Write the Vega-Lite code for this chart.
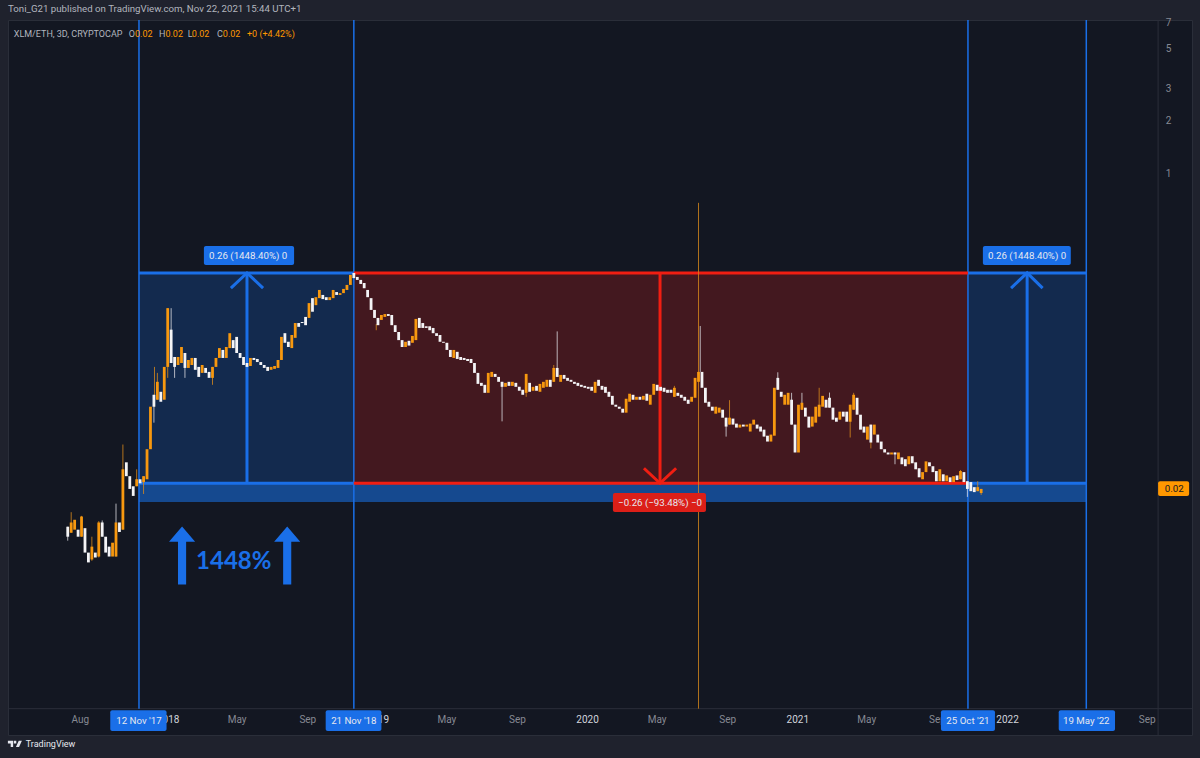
{
"$schema":"https://vega.github.io/schema/vega-lite/v6.json",
"width":1184,"height":715,
"autosize":{"type":"none"},
"padding":{"left":8,"top":20,"right":8,"bottom":23},
"background":"#1f222d",
"config":{"view":{"fill":"#131722","stroke":"#2a2e39"},"font":"Roboto"},
"title":{"text":"Toni_G21 published on TradingView.com, Nov 22, 2021 15:44 UTC+1","anchor":"start","frame":"group","fontSize":9.7,"fontWeight":"normal","color":"#b2b5be","offset":4},
"datasets":{
"zones":[
{"t":"2017-11-12","t2":"2018-11-21","p":0.28,"p2":0.0187,"k":"zblue"},
{"t":"2018-11-21","t2":"2021-10-25","p":0.28,"p2":0.0187,"k":"zred"},
{"t":"2021-10-25","t2":"2022-05-19","p":0.28,"p2":0.0187,"k":"zblue"},
{"t":"2017-11-12","t2":"2022-05-19","p":0.0187,"p2":0.0147,"k":"band"}],
"frame":[
{"t":"2017-03-29","t2":"2022-11-19","p":0.00103,"p2":0.00103,"k":"line"},
{"t":"2022-09-21","t2":"2022-09-21","p":7.25,"p2":0.000734,"k":"line"}],
"dates":[
{"t":"2017-11-12","p":7.25,"p2":0.00103,"k":"blue"},
{"t":"2018-11-21","p":7.25,"p2":0.00103,"k":"blue"},
{"t":"2021-10-25","p":7.25,"p2":0.00103,"k":"blue"},
{"t":"2022-05-19","p":7.25,"p2":0.00103,"k":"blue"}],
"edges":[
{"t":"2017-11-12","t2":"2018-11-21","p":0.28,"k":"blue"},
{"t":"2017-11-12","t2":"2018-11-21","p":0.0187,"k":"blue"},
{"t":"2018-11-21","t2":"2021-10-25","p":0.28,"k":"red"},
{"t":"2018-11-21","t2":"2021-10-25","p":0.0187,"k":"red"},
{"t":"2021-10-25","t2":"2022-05-19","p":0.28,"k":"blue"},
{"t":"2021-10-25","t2":"2022-05-19","p":0.0187,"k":"blue"}],
"shafts":[
{"t":"2018-05-19","p":0.28,"p2":0.0187,"k":"blue"},
{"t":"2020-05-07","p":0.28,"p2":0.0187,"k":"red"},
{"t":"2022-02-05","p":0.28,"p2":0.0187,"k":"blue"}],
"heads":[
{"t":"2018-04-21","p":0.2305,"g":"a","k":"blue"},{"t":"2018-05-19","p":0.28,"g":"a","k":"blue"},{"t":"2018-06-16","p":0.2305,"g":"a","k":"blue"},
{"t":"2020-04-09","p":0.0227,"g":"b","k":"red"},{"t":"2020-05-07","p":0.0187,"g":"b","k":"red"},{"t":"2020-06-04","p":0.0227,"g":"b","k":"red"},
{"t":"2022-01-08","p":0.2305,"g":"c","k":"blue"},{"t":"2022-02-05","p":0.28,"g":"c","k":"blue"},{"t":"2022-03-04","p":0.2305,"g":"c","k":"blue"}],
"wicks":[
{"t":"2017-07-11","p":0.0107,"p2":0.00894,"k":"down"},{"t":"2017-07-17","p":0.0129,"p2":0.0099,"k":"up"},{"t":"2017-08-04","p":0.0123,"p2":0.0094,"k":"up"},{"t":"2017-08-22","p":0.00941,"p2":0.0069,"k":"up"},{"t":"2017-09-03","p":0.0115,"p2":0.0072,"k":"up"},{"t":"2017-09-09","p":0.0116,"p2":0.0094,"k":"down"},{"t":"2017-10-03","p":0.0144,"p2":0.0073,"k":"down"},{"t":"2017-10-15","p":0.0308,"p2":0.0103,"k":"up"},{"t":"2017-11-08","p":0.0224,"p2":0.018,"k":"up"},{"t":"2017-11-20","p":0.0205,"p2":0.0163,"k":"up"},{"t":"2017-12-08","p":0.0584,"p2":0.0408,"k":"down"},{"t":"2017-12-09","p":0.0836,"p2":0.05,"k":"up"},{"t":"2017-12-14","p":0.0774,"p2":0.0548,"k":"up"},{"t":"2018-01-01","p":0.178,"p2":0.0726,"k":"up"},{"t":"2018-01-07","p":0.178,"p2":0.0879,"k":"down"},{"t":"2018-01-13","p":0.095,"p2":0.0726,"k":"down"},{"t":"2018-01-31","p":0.1,"p2":0.0726,"k":"down"},{"t":"2018-03-20","p":0.0836,"p2":0.0664,"k":"up"},
{"t":"2018-12-30","p":0.145,"p2":0.134,"k":"up"},{"t":"2019-08-06","p":0.069,"p2":0.0415,"k":"down"},{"t":"2019-09-17","p":0.0764,"p2":0.0569,"k":"up"},{"t":"2019-11-04","p":0.0857,"p2":0.069,"k":"up"},{"t":"2019-11-10","p":0.132,"p2":0.0735,"k":"down"},
{"t":"2020-06-01","p":0.0655,"p2":0.0569,"k":"up"},{"t":"2020-07-13","p":0.69,"p2":0.00103,"k":"up"},{"t":"2020-07-16","p":0.1415,"p2":0.0784,"k":"down"},{"t":"2020-08-30","p":0.0435,"p2":0.0341,"k":"down"},{"t":"2020-09-05","p":0.0545,"p2":0.0398,"k":"up"},{"t":"2020-11-28","p":0.078,"p2":0.0623,"k":"down"},{"t":"2020-12-22","p":0.0599,"p2":0.0398,"k":"down"},{"t":"2021-01-09","p":0.0599,"p2":0.048,"k":"down"},{"t":"2021-02-08","p":0.0639,"p2":0.0441,"k":"up"},{"t":"2021-02-26","p":0.0601,"p2":0.0495,"k":"down"},{"t":"2021-04-03","p":0.0514,"p2":0.0337,"k":"up"},{"t":"2021-04-09","p":0.0599,"p2":0.0482,"k":"up"},{"t":"2021-05-09","p":0.0398,"p2":0.0293,"k":"up"},{"t":"2021-06-20","p":0.0278,"p2":0.0239,"k":"down"},{"t":"2021-10-12","p":0.0222,"p2":0.0197,"k":"up"},{"t":"2021-10-24","p":0.0192,"p2":0.0157,"k":"down"},{"t":"2021-11-11","p":0.0192,"p2":0.0169,"k":"up"},{"t":"2021-11-17","p":0.0174,"p2":0.0161,"k":"up"}],
"candles":[
{"t":"2017-07-11","p":0.0107,"p2":0.00941},{"t":"2017-07-17","p":0.0099,"p2":0.0113},{"t":"2017-07-23","p":0.0103,"p2":0.0117},{"t":"2017-07-29","p":0.0103,"p2":0.00941},{"t":"2017-08-04","p":0.00941,"p2":0.0122},{"t":"2017-08-10","p":0.0105,"p2":0.00767},{"t":"2017-08-16","p":0.00767,"p2":0.00676},{"t":"2017-08-22","p":0.00702,"p2":0.00828},{"t":"2017-08-28","p":0.00767,"p2":0.0072},{"t":"2017-09-03","p":0.00729,"p2":0.0113},
{"t":"2017-09-09","p":0.0113,"p2":0.00941},{"t":"2017-09-15","p":0.00941,"p2":0.00767},{"t":"2017-09-21","p":0.00828,"p2":0.00729},{"t":"2017-09-27","p":0.00729,"p2":0.00871},{"t":"2017-10-03","p":0.00729,"p2":0.0113},{"t":"2017-10-09","p":0.0113,"p2":0.01},{"t":"2017-10-15","p":0.0103,"p2":0.0224},{"t":"2017-10-21","p":0.0245,"p2":0.0205},{"t":"2017-10-27","p":0.0205,"p2":0.0174},{"t":"2017-11-02","p":0.018,"p2":0.0159},
{"t":"2017-11-08","p":0.018,"p2":0.0197},{"t":"2017-11-14","p":0.0197,"p2":0.0187},{"t":"2017-11-20","p":0.019,"p2":0.0205},{"t":"2017-11-26","p":0.0197,"p2":0.029},{"t":"2017-12-02","p":0.029,"p2":0.0501},{"t":"2017-12-08","p":0.0584,"p2":0.0501},{"t":"2017-12-14","p":0.0548,"p2":0.069},{"t":"2017-12-20","p":0.0607,"p2":0.0534},{"t":"2017-12-26","p":0.0548,"p2":0.0836},{"t":"2018-01-01","p":0.0836,"p2":0.178},
{"t":"2018-01-07","p":0.135,"p2":0.0879},{"t":"2018-01-13","p":0.095,"p2":0.0836},{"t":"2018-01-19","p":0.0857,"p2":0.095},{"t":"2018-01-25","p":0.0879,"p2":0.108},{"t":"2018-01-31","p":0.1,"p2":0.0825},{"t":"2018-02-06","p":0.0825,"p2":0.0914},{"t":"2018-02-12","p":0.0857,"p2":0.0938},{"t":"2018-02-18","p":0.0938,"p2":0.0805},{"t":"2018-02-24","p":0.0836,"p2":0.0735},{"t":"2018-03-02","p":0.0774,"p2":0.0857},
{"t":"2018-03-08","p":0.0825,"p2":0.0774},{"t":"2018-03-14","p":0.0784,"p2":0.0726},{"t":"2018-03-20","p":0.0726,"p2":0.0836},{"t":"2018-03-26","p":0.0836,"p2":0.0938},{"t":"2018-04-01","p":0.0938,"p2":0.1065},{"t":"2018-04-07","p":0.104,"p2":0.0938},{"t":"2018-04-13","p":0.0938,"p2":0.108},{"t":"2018-04-19","p":0.1065,"p2":0.129},{"t":"2018-04-25","p":0.118,"p2":0.1065},{"t":"2018-05-01","p":0.123,"p2":0.1},
{"t":"2018-05-07","p":0.1,"p2":0.0938},{"t":"2018-05-13","p":0.095,"p2":0.0857},{"t":"2018-05-19","p":0.0879,"p2":0.0836},{"t":"2018-05-25","p":0.0846,"p2":0.0938},{"t":"2018-05-31","p":0.0938,"p2":0.0914},{"t":"2018-06-06","p":0.0926,"p2":0.089},{"t":"2018-06-12","p":0.089,"p2":0.0857},{"t":"2018-06-18","p":0.0857,"p2":0.0825},{"t":"2018-06-24","p":0.0836,"p2":0.0794},{"t":"2018-06-30","p":0.0805,"p2":0.0836},
{"t":"2018-07-06","p":0.0815,"p2":0.0846},{"t":"2018-07-12","p":0.0825,"p2":0.0914},{"t":"2018-07-18","p":0.0914,"p2":0.123},{"t":"2018-07-24","p":0.129,"p2":0.114},{"t":"2018-07-30","p":0.1155,"p2":0.108},{"t":"2018-08-05","p":0.1065,"p2":0.126},{"t":"2018-08-11","p":0.1215,"p2":0.147},{"t":"2018-08-17","p":0.147,"p2":0.14},{"t":"2018-08-23","p":0.149,"p2":0.147},{"t":"2018-08-29","p":0.159,"p2":0.143},
{"t":"2018-09-04","p":0.157,"p2":0.19},{"t":"2018-09-10","p":0.2025,"p2":0.17},{"t":"2018-09-16","p":0.185,"p2":0.205},{"t":"2018-09-22","p":0.2025,"p2":0.225},{"t":"2018-09-28","p":0.211,"p2":0.2},{"t":"2018-10-04","p":0.205,"p2":0.1975},{"t":"2018-10-10","p":0.1975,"p2":0.205},{"t":"2018-10-16","p":0.2025,"p2":0.225},{"t":"2018-10-22","p":0.219,"p2":0.211},{"t":"2018-10-28","p":0.211,"p2":0.216},
{"t":"2018-11-03","p":0.216,"p2":0.228},{"t":"2018-11-09","p":0.225,"p2":0.24},{"t":"2018-11-15","p":0.24,"p2":0.273},{"t":"2018-11-21","p":0.28,"p2":0.262},{"t":"2018-11-27","p":0.266,"p2":0.256},{"t":"2018-12-03","p":0.256,"p2":0.243},{"t":"2018-12-09","p":0.246,"p2":0.23},{"t":"2018-12-15","p":0.225,"p2":0.205},{"t":"2018-12-21","p":0.2025,"p2":0.174},{"t":"2018-12-27","p":0.174,"p2":0.157},
{"t":"2019-01-02","p":0.157,"p2":0.143},{"t":"2019-01-08","p":0.153,"p2":0.163},{"t":"2019-01-14","p":0.159,"p2":0.165},{"t":"2019-01-20","p":0.165,"p2":0.161},{"t":"2019-01-26","p":0.163,"p2":0.143},{"t":"2019-02-01","p":0.143,"p2":0.131},{"t":"2019-02-07","p":0.131,"p2":0.118},{"t":"2019-02-13","p":0.118,"p2":0.108},{"t":"2019-02-19","p":0.108,"p2":0.1155},{"t":"2019-02-25","p":0.117,"p2":0.11},
{"t":"2019-03-03","p":0.114,"p2":0.1245},{"t":"2019-03-09","p":0.118,"p2":0.155},{"t":"2019-03-15","p":0.157,"p2":0.138},{"t":"2019-03-21","p":0.147,"p2":0.138},{"t":"2019-03-27","p":0.141,"p2":0.138},{"t":"2019-04-02","p":0.141,"p2":0.134},{"t":"2019-04-08","p":0.138,"p2":0.129},{"t":"2019-04-14","p":0.129,"p2":0.1245},{"t":"2019-04-20","p":0.126,"p2":0.1155},{"t":"2019-04-26","p":0.1155,"p2":0.114},
{"t":"2019-05-02","p":0.114,"p2":0.104},{"t":"2019-05-08","p":0.104,"p2":0.095},{"t":"2019-05-14","p":0.0938,"p2":0.104},{"t":"2019-05-20","p":0.1015,"p2":0.0926},{"t":"2019-05-26","p":0.095,"p2":0.0914},{"t":"2019-06-01","p":0.0938,"p2":0.0914},{"t":"2019-06-07","p":0.0926,"p2":0.0902},{"t":"2019-06-13","p":0.0926,"p2":0.0879},{"t":"2019-06-19","p":0.0879,"p2":0.0774},{"t":"2019-06-25","p":0.0774,"p2":0.0672},
{"t":"2019-07-01","p":0.0681,"p2":0.0655},{"t":"2019-07-07","p":0.0664,"p2":0.0599},{"t":"2019-07-13","p":0.0599,"p2":0.0774},{"t":"2019-07-19","p":0.0735,"p2":0.0784},{"t":"2019-07-25","p":0.0764,"p2":0.0735},{"t":"2019-07-31","p":0.0735,"p2":0.069},{"t":"2019-08-06","p":0.069,"p2":0.0647},{"t":"2019-08-12","p":0.0647,"p2":0.0681},{"t":"2019-08-18","p":0.069,"p2":0.0655},{"t":"2019-08-24","p":0.0655,"p2":0.069},
{"t":"2019-08-30","p":0.0681,"p2":0.0647},{"t":"2019-09-05","p":0.0647,"p2":0.0615},{"t":"2019-09-11","p":0.0623,"p2":0.0584},{"t":"2019-09-17","p":0.0599,"p2":0.0764},{"t":"2019-09-23","p":0.0681,"p2":0.0607},{"t":"2019-09-29","p":0.0615,"p2":0.0647},{"t":"2019-10-05","p":0.0655,"p2":0.0615},{"t":"2019-10-11","p":0.0607,"p2":0.0672},{"t":"2019-10-17","p":0.0639,"p2":0.069},{"t":"2019-10-23","p":0.0647,"p2":0.0708},
{"t":"2019-10-29","p":0.0708,"p2":0.0647},{"t":"2019-11-04","p":0.069,"p2":0.0825},{"t":"2019-11-10","p":0.0825,"p2":0.0735},{"t":"2019-11-16","p":0.069,"p2":0.0754},{"t":"2019-11-22","p":0.0754,"p2":0.0717},{"t":"2019-11-28","p":0.0726,"p2":0.0699},{"t":"2019-12-04","p":0.0708,"p2":0.069},{"t":"2019-12-10","p":0.069,"p2":0.0672},{"t":"2019-12-16","p":0.0681,"p2":0.0655},{"t":"2019-12-22","p":0.0664,"p2":0.0647},
{"t":"2019-12-28","p":0.0655,"p2":0.0639},{"t":"2020-01-03","p":0.0647,"p2":0.0631},{"t":"2020-01-09","p":0.0647,"p2":0.0615},{"t":"2020-01-15","p":0.0599,"p2":0.069},{"t":"2020-01-21","p":0.0708,"p2":0.0655},{"t":"2020-01-27","p":0.0655,"p2":0.0623},{"t":"2020-02-02","p":0.0647,"p2":0.0599},{"t":"2020-02-08","p":0.0607,"p2":0.0569},{"t":"2020-02-14","p":0.0576,"p2":0.0514},{"t":"2020-02-20","p":0.0514,"p2":0.0501},
{"t":"2020-02-26","p":0.0501,"p2":0.0488},{"t":"2020-03-03","p":0.0488,"p2":0.0464},{"t":"2020-03-09","p":0.0464,"p2":0.0555},{"t":"2020-03-15","p":0.0534,"p2":0.0592},{"t":"2020-03-21","p":0.0584,"p2":0.0548},{"t":"2020-03-27","p":0.0548,"p2":0.0569},{"t":"2020-04-02","p":0.0569,"p2":0.0548},{"t":"2020-04-08","p":0.0548,"p2":0.0576},{"t":"2020-04-14","p":0.0592,"p2":0.0541},{"t":"2020-04-20","p":0.0514,"p2":0.0584},
{"t":"2020-04-26","p":0.0584,"p2":0.0672},{"t":"2020-05-02","p":0.0664,"p2":0.0615},{"t":"2020-05-08","p":0.0647,"p2":0.0615},{"t":"2020-05-14","p":0.0639,"p2":0.0607},{"t":"2020-05-20","p":0.0623,"p2":0.0599},{"t":"2020-05-26","p":0.0623,"p2":0.0599},{"t":"2020-06-01","p":0.0569,"p2":0.0639},{"t":"2020-06-07","p":0.0599,"p2":0.0576},{"t":"2020-06-13","p":0.0584,"p2":0.0562},{"t":"2020-06-19","p":0.0569,"p2":0.0541},
{"t":"2020-06-25","p":0.0548,"p2":0.052},{"t":"2020-07-01","p":0.0534,"p2":0.0569},{"t":"2020-07-07","p":0.0562,"p2":0.0726},{"t":"2020-07-13","p":0.069,"p2":0.0784},{"t":"2020-07-19","p":0.0784,"p2":0.0639},{"t":"2020-07-25","p":0.0639,"p2":0.0527},{"t":"2020-07-31","p":0.0534,"p2":0.0501},{"t":"2020-08-06","p":0.0501,"p2":0.0476},{"t":"2020-08-12","p":0.0458,"p2":0.0501},{"t":"2020-08-18","p":0.0464,"p2":0.0495},
{"t":"2020-08-24","p":0.0482,"p2":0.0435},{"t":"2020-08-30","p":0.0435,"p2":0.0388},{"t":"2020-09-05","p":0.0398,"p2":0.0435},{"t":"2020-09-11","p":0.043,"p2":0.0398},{"t":"2020-09-17","p":0.0403,"p2":0.0383},{"t":"2020-09-23","p":0.0383,"p2":0.0398},{"t":"2020-09-29","p":0.0398,"p2":0.0388},{"t":"2020-10-05","p":0.0388,"p2":0.0398},{"t":"2020-10-11","p":0.0364,"p2":0.0403},{"t":"2020-10-17","p":0.0398,"p2":0.0424},
{"t":"2020-10-23","p":0.0398,"p2":0.0378},{"t":"2020-10-29","p":0.0388,"p2":0.0364},{"t":"2020-11-04","p":0.0373,"p2":0.0341},{"t":"2020-11-10","p":0.0345,"p2":0.032},{"t":"2020-11-16","p":0.032,"p2":0.035},{"t":"2020-11-22","p":0.0345,"p2":0.0639},{"t":"2020-11-28","p":0.0726,"p2":0.0623},{"t":"2020-12-04","p":0.0607,"p2":0.0569},{"t":"2020-12-10","p":0.0514,"p2":0.0584},{"t":"2020-12-16","p":0.0514,"p2":0.0599},
{"t":"2020-12-22","p":0.0548,"p2":0.0398},{"t":"2020-12-28","p":0.0398,"p2":0.0278},{"t":"2021-01-03","p":0.0278,"p2":0.0514},{"t":"2021-01-09","p":0.0482,"p2":0.0527},{"t":"2021-01-15","p":0.0495,"p2":0.0441},{"t":"2021-01-21","p":0.0441,"p2":0.0383},{"t":"2021-01-27","p":0.0388,"p2":0.0441},{"t":"2021-02-02","p":0.0408,"p2":0.0501},{"t":"2021-02-08","p":0.0441,"p2":0.0514},{"t":"2021-02-14","p":0.0501,"p2":0.0576},
{"t":"2021-02-20","p":0.0548,"p2":0.0495},{"t":"2021-02-26","p":0.0562,"p2":0.0495},{"t":"2021-03-04","p":0.0495,"p2":0.0424},{"t":"2021-03-10","p":0.0435,"p2":0.0413},{"t":"2021-03-16","p":0.0424,"p2":0.047},{"t":"2021-03-22","p":0.047,"p2":0.0441},{"t":"2021-03-28","p":0.047,"p2":0.0413},{"t":"2021-04-03","p":0.0413,"p2":0.0514},{"t":"2021-04-09","p":0.0482,"p2":0.0584},{"t":"2021-04-15","p":0.0562,"p2":0.0452},
{"t":"2021-04-21","p":0.0452,"p2":0.0373},{"t":"2021-04-27","p":0.0388,"p2":0.0359},{"t":"2021-05-03","p":0.0328,"p2":0.0388},{"t":"2021-05-09","p":0.0398,"p2":0.0316},{"t":"2021-05-15","p":0.035,"p2":0.0398},{"t":"2021-05-21","p":0.035,"p2":0.0316},{"t":"2021-05-27","p":0.032,"p2":0.029},{"t":"2021-06-02","p":0.029,"p2":0.0278},{"t":"2021-06-08","p":0.0278,"p2":0.0271},{"t":"2021-06-14","p":0.0271,"p2":0.0278},
{"t":"2021-06-20","p":0.0278,"p2":0.0271},{"t":"2021-06-26","p":0.0255,"p2":0.0278},{"t":"2021-07-02","p":0.0261,"p2":0.0239},{"t":"2021-07-08","p":0.0255,"p2":0.0233},{"t":"2021-07-14","p":0.0239,"p2":0.0265},{"t":"2021-07-20","p":0.0265,"p2":0.0242},{"t":"2021-07-26","p":0.0245,"p2":0.0224},{"t":"2021-08-01","p":0.0227,"p2":0.0202},{"t":"2021-08-07","p":0.0197,"p2":0.0216},{"t":"2021-08-13","p":0.0216,"p2":0.0248},
{"t":"2021-08-19","p":0.0245,"p2":0.0233},{"t":"2021-08-25","p":0.0233,"p2":0.0216},{"t":"2021-08-31","p":0.0219,"p2":0.0192},{"t":"2021-09-06","p":0.0192,"p2":0.0224},{"t":"2021-09-12","p":0.021,"p2":0.0192},{"t":"2021-09-18","p":0.0192,"p2":0.0207},{"t":"2021-09-24","p":0.0202,"p2":0.019},{"t":"2021-09-30","p":0.019,"p2":0.0205},{"t":"2021-10-06","p":0.0207,"p2":0.0195},{"t":"2021-10-12","p":0.0197,"p2":0.0219},
{"t":"2021-10-18","p":0.0216,"p2":0.019},{"t":"2021-10-24","p":0.0192,"p2":0.0174},{"t":"2021-10-30","p":0.019,"p2":0.0169},{"t":"2021-11-05","p":0.0178,"p2":0.0167},{"t":"2021-11-11","p":0.0169,"p2":0.0178},{"t":"2021-11-17","p":0.0165,"p2":0.0174}],
"tags":[
{"t":"2018-03-05","t2":"2018-08-09","p":0.396,"p2":0.31,"k":"blue"},
{"t":"2021-11-20","t2":"2022-04-22","p":0.396,"p2":0.31,"k":"blue"},
{"t":"2020-02-15","t2":"2020-07-26","p":0.0165,"p2":0.01293,"k":"redtag"},
{"t":"2017-09-23","t2":"2017-12-30","p":0.00101,"p2":0.000773,"k":"blue"},
{"t":"2018-10-03","t2":"2019-01-08","p":0.00101,"p2":0.000773,"k":"blue"},
{"t":"2021-09-08","t2":"2021-12-11","p":0.00101,"p2":0.000773,"k":"blue"},
{"t":"2022-04-01","t2":"2022-07-08","p":0.00101,"p2":0.000773,"k":"blue"},
{"t":"2022-09-21","t2":"2022-11-14","p":0.0192,"p2":0.0159,"k":"amber"}],
"centered":[
{"t":"2018-05-21","p":0.35,"txt":"0.26 (1448.40%) 0","k":"white"},
{"t":"2022-02-05","p":0.35,"txt":"0.26 (1448.40%) 0","k":"white"},
{"t":"2020-05-07","p":0.0146,"txt":"−0.26 (−93.48%) −0","k":"white"},
{"t":"2017-11-12","p":0.00088,"txt":"12 Nov '17","k":"white"},
{"t":"2018-11-21","p":0.00088,"txt":"21 Nov '18","k":"white"},
{"t":"2021-10-25","p":0.00088,"txt":"25 Oct '21","k":"white"},
{"t":"2022-05-19","p":0.00088,"txt":"19 May '22","k":"white"},
{"t":"2022-10-19","p":0.0174,"txt":"0.02","k":"ink"}],
"legend":[
{"t":"2017-04-08","p":6.05,"txt":"XLM/ETH, 3D, CRYPTOCAP","k":"grey"},
{"t":"2017-10-25","p":6.05,"txt":"O","k":"grey"},
{"t":"2017-11-05","p":6.05,"txt":"0.02","k":"amber"},
{"t":"2017-12-17","p":6.05,"txt":"H","k":"grey"},
{"t":"2017-12-28","p":6.05,"txt":"0.02","k":"amber"},
{"t":"2018-02-05","p":6.05,"txt":"L","k":"grey"},
{"t":"2018-02-12","p":6.05,"txt":"0.02","k":"amber"},
{"t":"2018-03-28","p":6.05,"txt":"C","k":"grey"},
{"t":"2018-04-07","p":6.05,"txt":"0.02","k":"amber"},
{"t":"2018-05-19","p":6.05,"txt":"+0 (+4.42%)","k":"amber"},
{"t":"2017-04-29","p":0.000654,"txt":"TradingView","k":"white"}],
"bigarrows":[{"t":"2018-01-26","p":0.00738,"k":"blue"},{"t":"2018-07-28","p":0.00738,"k":"blue"}],
"logo":[{"t":"2017-04-10","p":0.000654,"k":"white"}]
},
"encoding":{
"x":{"field":"t","type":"temporal","title":null,"scale":{"type":"utc","nice":false,"padding":0,"domain":["2017-03-29","2022-11-19"]},
 "axis":{"orient":"bottom","values":["2017-08-01","2018-01-01","2018-05-01","2018-09-01","2019-01-01","2019-05-01","2019-09-01","2020-01-01","2020-05-01","2020-09-01","2021-01-01","2021-05-01","2021-09-01","2022-01-01","2022-09-01"],"labelExpr":"utcmonth(datum.value)==0?utcFormat(datum.value,'%Y'):utcFormat(datum.value,'%b')","domain":false,"ticks":false,"grid":false,"labelPadding":-21,"labelFontSize":10,"labelColor":{"condition":{"test":"utcmonth(datum.value)==0","value":"#d1d4dc"},"value":"#868993"},"labelFlush":false,"labelOverlap":false}},
"y":{"field":"p","type":"quantitative","title":null,"scale":{"type":"log","domain":[0.000734,7.25],"nice":false},
 "axis":{"orient":"right","values":[1,2,3,5,7],"format":"d","domain":false,"ticks":false,"grid":false,"labelPadding":-24,"labelAlign":"center","labelFontSize":10,"labelColor":"#868993","labelOverlap":false,"labelFlush":false}},
"color":{"field":"k","type":"nominal","legend":null,"scale":{"domain":["zblue","zred","band","line","blue","red","redtag","amber","white","ink","grey"],"range":["#132a4e","#43181f","#15498f","#2a2e39","#1a6fe8","#f01e12","#dc1f18","#ff9800","#e6e8ef","#131722","#b2b5be"]}}
},
"layer":[
{"data":{"name":"zones"},"mark":{"type":"rect"},"encoding":{"x2":{"field":"t2"},"y2":{"field":"p2"}}},
{"data":{"name":"frame"},"mark":{"type":"rule","strokeWidth":1},"encoding":{"x2":{"field":"t2"},"y2":{"field":"p2"}}},
{"data":{"name":"dates"},"mark":{"type":"rule","strokeWidth":1.5},"encoding":{"y2":{"field":"p2"}}},
{"data":{"name":"edges"},"mark":{"type":"rule","strokeWidth":3},"encoding":{"x2":{"field":"t2"}}},
{"data":{"name":"shafts"},"mark":{"type":"rule","strokeWidth":3},"encoding":{"y2":{"field":"p2"}}},
{"data":{"name":"heads"},"mark":{"type":"line","strokeWidth":3},"encoding":{"detail":{"field":"g"}}},
{"data":{"name":"wicks"},"mark":{"type":"rule","strokeWidth":1,"opacity":0.8},"encoding":{"y2":{"field":"p2"},"color":{"condition":{"test":"datum.k=='up'","value":"#d98a1c"},"value":"#d9d9de"}}},
{"data":{"name":"candles"},"mark":{"type":"bar","size":2.8},"encoding":{"y2":{"field":"p2"},"color":{"condition":{"test":"datum.p2>=datum.p","value":"#f7980f"},"value":"#f4f4f6"}}},
{"data":{"name":"tags"},"mark":{"type":"rect","cornerRadius":2},"encoding":{"x2":{"field":"t2"},"y2":{"field":"p2"}}},
{"data":{"name":"centered"},"mark":{"type":"text","fontSize":9.7,"align":"center","baseline":"middle"},"encoding":{"text":{"field":"txt"}}},
{"data":{"name":"legend"},"mark":{"type":"text","fontSize":9,"align":"left","baseline":"middle"},"encoding":{"text":{"field":"txt"}}},
{"data":{"values":[{"t":"2018-04-26","p":0.0068,"txt":"1448%","k":"blue"}]},"mark":{"type":"text","font":"Lato","fontSize":24,"fontWeight":"bold","align":"center","baseline":"middle"},"encoding":{"text":{"field":"txt"}}},
{"data":{"name":"bigarrows"},"mark":{"type":"point","filled":true,"opacity":1,"size":3364,"shape":"M0,-1L0.45,-0.48L0.14,-0.48L0.14,1L-0.14,1L-0.14,-0.48L-0.45,-0.48Z"}},
{"data":{"name":"logo"},"mark":{"type":"point","filled":true,"opacity":1,"size":196,"shape":"M-1,-0.45H-0.25V0.45H-0.6V-0.05H-1ZM-0.15,-0.45H0.2V-0.05H-0.15ZM0.15,0.45L0.55,-0.45H1L0.6,0.45Z"}}
]
}
